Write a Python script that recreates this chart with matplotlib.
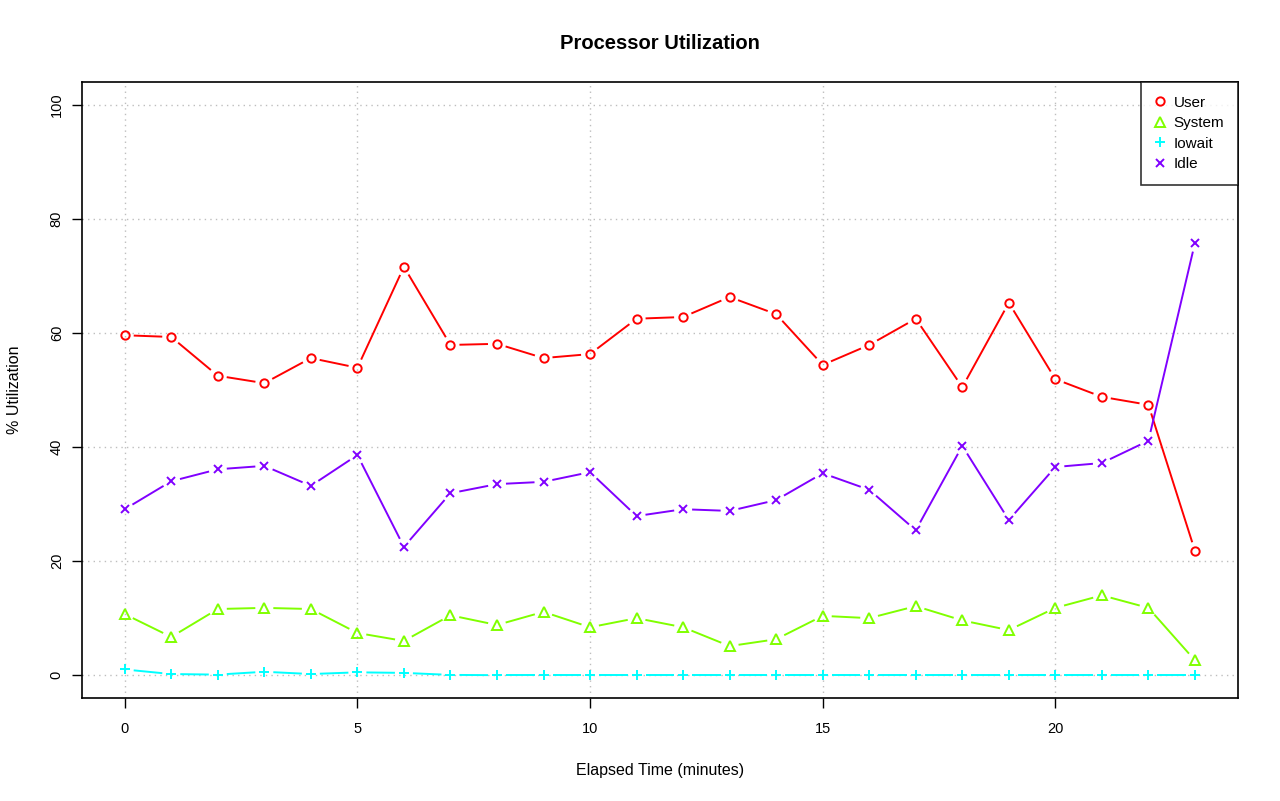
import matplotlib.pyplot as plt
import numpy as np

plt.rcParams['font.family'] = ['Liberation Sans', 'DejaVu Sans']

minutes = list(range(24))
user = [59.6, 59.3, 52.5, 51.2, 55.6, 53.9, 71.6, 57.9, 58.1, 55.6, 56.3, 62.5,
        62.8, 66.3, 63.3, 54.4, 57.9, 62.5, 50.5, 65.3, 51.9, 48.8, 47.4, 21.8]
system = [10.7, 6.7, 11.6, 11.8, 11.6, 7.4, 6.0, 10.5, 8.8, 11.1, 8.4, 10.0,
          8.4, 5.1, 6.3, 10.4, 10.0, 12.1, 9.6, 7.9, 11.8, 14.0, 11.8, 2.6]
iowait = [1.0, 0.2, 0.1, 0.6, 0.2, 0.5, 0.4, 0.05, 0.0, 0.0, 0.0, 0.0,
          0.0, 0.0, 0.0, 0.0, 0.0, 0.0, 0.0, 0.0, 0.0, 0.0, 0.0, 0.0]
idle = [29.1, 34.0, 36.1, 36.7, 33.2, 38.6, 22.5, 31.9, 33.5, 33.9, 35.6, 27.9,
        29.1, 28.8, 30.7, 35.4, 32.5, 25.4, 40.2, 27.2, 36.5, 37.2, 41.1, 75.8]

# name, values, colour, marker, marker size
series = [
    ('User', user, '#FF0000', 'o', 6),
    ('System', system, '#80FF00', '^', 7),
    ('Iowait', iowait, '#00FFFF', '+', 7),
    ('Idle', idle, '#8000FF', 'x', 5.5),
]


def gapped_line(ax, x, y, color, gap=9):
    """Draw R type='b' style lines: segments stop short of each point."""
    pts = ax.transData.transform(np.column_stack([x, y]))
    inv = ax.transData.inverted()
    for (x0, y0), (x1, y1) in zip(pts[:-1], pts[1:]):
        d = np.hypot(x1 - x0, y1 - y0)
        if d <= 2 * gap:
            continue
        ux, uy = (x1 - x0) / d, (y1 - y0) / d
        a = inv.transform((x0 + ux * gap, y0 + uy * gap))
        b = inv.transform((x1 - ux * gap, y1 - uy * gap))
        ax.plot([a[0], b[0]], [a[1], b[1]], color=color, lw=1.4,
                solid_capstyle='butt', zorder=2)


fig = plt.figure(figsize=(12.8, 8.01), dpi=100)
ax = fig.add_axes([0.064, 0.1286, 0.903, 0.769])
ax.set_xlim(-0.92, 23.92)
ax.set_ylim(-4, 104)

for xv in [0, 5, 10, 15, 20]:
    ax.axvline(xv, color='#BEBEBE', lw=1, ls=(0, (1, 3)), zorder=1)
for yv in [0, 20, 40, 60, 80, 100]:
    ax.axhline(yv, color='#BEBEBE', lw=1, ls=(0, (1, 3)), zorder=1)

for name, vals, color, mk, ms in series:
    gapped_line(ax, minutes, vals, color)
    ax.plot(minutes, vals, ls='none', marker=mk, ms=ms, mfc='none',
            mec=color, mew=1.4, label=name, zorder=3)

ax.set_xticks([0, 5, 10, 15, 20])
ax.set_yticks([0, 20, 40, 60, 80, 100])
ax.tick_params(axis='both', direction='out', length=7, width=1, labelsize=10.5,
               pad=6)
ax.tick_params(axis='x', pad=10)
for lbl in ax.get_yticklabels():
    lbl.set_rotation(90)
    lbl.set_va('center')
for sp in ax.spines.values():
    sp.set_linewidth(1.2)

ax.set_xlabel('Elapsed Time (minutes)', fontsize=11.5, labelpad=20)
ax.set_ylabel('% Utilization', fontsize=11.5, labelpad=20)
ax.set_title('Processor Utilization', fontsize=14.5, fontweight='bold', pad=24)

leg = ax.legend(loc='upper right', frameon=True, fancybox=False,
                edgecolor='black', fontsize=11, handlelength=0.7,
                handletextpad=0.55, borderpad=0.9, labelspacing=0.42,
                borderaxespad=0)
leg.get_frame().set_linewidth(1.2)

fig.savefig('out.png', dpi=100)
